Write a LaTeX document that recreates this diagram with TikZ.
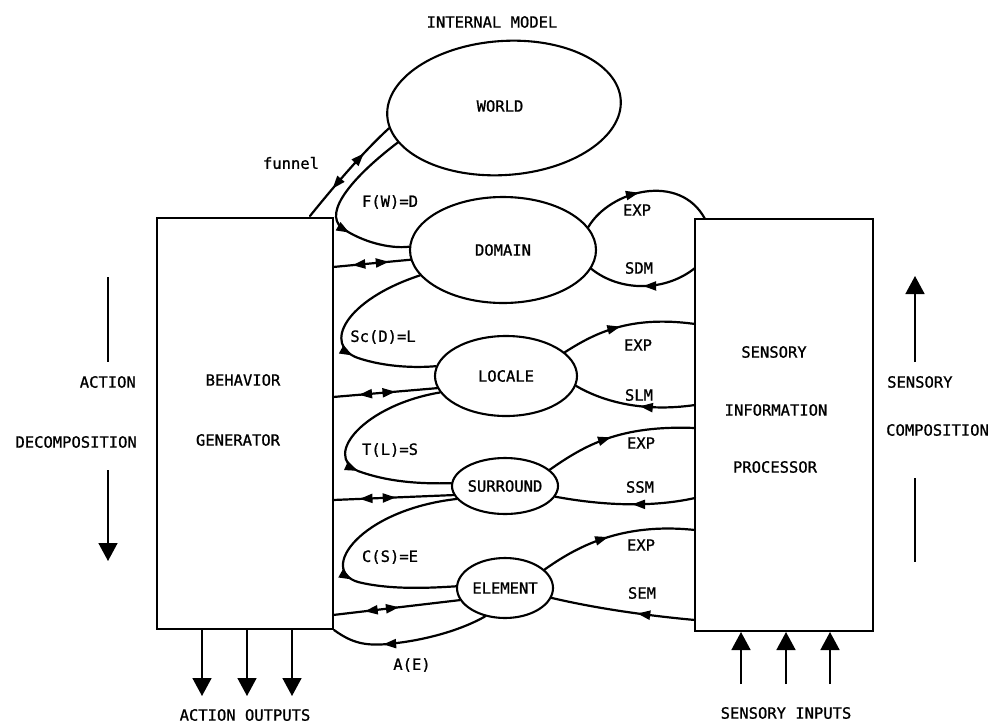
\documentclass[tikz,border=0pt]{standalone}
\usepackage{fontspec}
\usetikzlibrary{arrows.meta,decorations.markings,shapes.geometric}
\newfontfamily\plotfont{DejaVu Sans Mono}[FakeBold=1]
\newcommand\lf{\plotfont\fontsize{15.5}{18}\selectfont}

\tikzset{
  lbl/.style={font=\lf, inner sep=0pt},
  oval/.style={ellipse, draw, line width=2.1pt, inner sep=0pt, font=\lf},
  blk/.style={draw, line width=2pt, inner sep=0pt},
  wire/.style={line width=2.2pt, line cap=round},
  thinline/.style={line width=1.6pt},
  bigtip/.style={-{Triangle[length=18pt,width=19pt]}},
  fwd/.style={postaction={decorate, decoration={markings,
      mark=at position #1 with {\arrow{Triangle[length=13pt,width=9pt]}}}}},
  bwd/.style={postaction={decorate, decoration={markings,
      mark=at position #1 with {\arrowreversed{Triangle[length=13pt,width=9pt]}}}}},
}

\begin{document}
\begin{tikzpicture}[x=1pt, y=-1pt]
\useasboundingbox (0,0) rectangle (992,723);

% internal model: nested ellipses (the outer one slightly tilted)
\node[lbl] (title) at (492,22) {INTERNAL MODEL};
\node[oval, rotate=4, minimum width=234pt, minimum height=134pt] (world) at (504,108) {};
\node[lbl] (worldL) at (500,106) {WORLD};
\node[oval, minimum width=186pt, minimum height=106pt] (domain) at (503,250) {DOMAIN};
\node[oval, minimum width=142pt, minimum height=80pt] (locale) at (506,376) {LOCALE};
\node[oval, minimum width=106pt, minimum height=56pt] (surround) at (505,486) {SURROUND};
\node[oval, minimum width=96pt, minimum height=60pt] (element) at (505,588) {ELEMENT};

% the two processing blocks
\node[blk, minimum width=176pt, minimum height=411pt] (bg) at (245,423.5) {};
\node[blk, minimum width=178pt, minimum height=412pt] (sip) at (784,425) {};
\node[lbl] (bgA) at (243,380) {BEHAVIOR};
\node[lbl] (bgB) at (238,440) {GENERATOR};
\node[lbl] (sipA) at (774,352) {SENSORY};
\node[lbl] (sipB) at (776,410) {INFORMATION};
\node[lbl] (sipC) at (775,467) {PROCESSOR};

% side captions with direction arrows
\node[lbl, anchor=east] (actA) at (136,382) {ACTION};
\node[lbl, anchor=east] (actB) at (137,442) {DECOMPOSITION};
\node[lbl, anchor=west] (senA) at (887,382) {SENSORY};
\node[lbl, anchor=west] (senB) at (886,430) {COMPOSITION};
\coordinate (dA1) at (108,277); \coordinate (dA2) at (108,362);
\coordinate (dB1) at (108,470); \coordinate (dB2) at (108,561);
\draw[thinline] (dA1) -- (dA2);
\draw[thinline, bigtip] (dB1) -- (dB2);
\coordinate (cA1) at (915,362); \coordinate (cA2) at (915,276);
\coordinate (cB1) at (915,478); \coordinate (cB2) at (915,562);
\draw[thinline, bigtip] (cA1) -- (cA2);
\draw[thinline] (cB1) -- (cB2);

% action outputs and sensory inputs
\coordinate (o1) at (202,696); \coordinate (o2) at (247,696); \coordinate (o3) at (292,696);
\foreach \o in {o1,o2,o3} \draw[thinline, bigtip] (bg.south -| \o) -- (\o);
\node[lbl] (outs) at (245,715) {ACTION OUTPUTS};
\coordinate (i1) at (741,684); \coordinate (i2) at (786,684); \coordinate (i3) at (830,684);
\foreach \i in {i1,i2,i3} \draw[thinline, bigtip] (\i) -- (sip.south -| \i);
\node[lbl] (ins) at (786,713) {SENSORY INPUTS};

% world level
\coordinate (fun) at (310,216);
\draw[wire, bwd=0.3, fwd=0.7] (fun) .. controls (335,185) and (365,150) .. (world.186);
\node[lbl] (funL) at (291,163) {funnel};
\draw[wire, fwd=0.66] (world.194) .. controls (355,175) and (322,212) .. (342,228)
      .. controls (362,242) and (390,249) .. (domain.178);
\node[lbl] (fwL) at (390,202) {F(W)=D};

% domain level
\coordinate (dd) at (333,267);
\draw[wire, bwd=0.25, fwd=0.72] (dd) -- (domain.186);
\draw[wire, fwd=0.6] (domain.197) .. controls (345,300) and (322,345) .. (358,358)
      .. controls (385,367) and (415,368) .. (locale.172);
\node[lbl] (scL) at (383,337) {Sc(D)=L};
\coordinate (se0) at (705,219);
\draw[wire, fwd=0.45] (domain.15) .. controls (610,190) and (680,172) .. (se0);
\node[lbl] (e0) at (637,210) {EXP};
\coordinate (sdm) at (695,268);
\draw[wire, bwd=0.5] (domain.-12) .. controls (620,292) and (665,292) .. (sdm);
\node[lbl] (sdmL) at (639,268) {SDM};

% locale level
\coordinate (ld) at (333,397);
\draw[wire, bwd=0.25, fwd=0.6] (ld) -- (locale.190);
\draw[wire, fwd=0.6] (locale.194) .. controls (365,405) and (322,455) .. (358,471)
      .. controls (388,482) and (420,484) .. (surround.177);
\node[lbl] (tL) at (390,450) {T(L)=S};
\coordinate (se1) at (695,324);
\draw[wire, fwd=0.45] (locale.22) .. controls (595,333) and (630,315) .. (se1);
\node[lbl] (e1) at (638,345) {EXP};
\coordinate (slm) at (695,405);
\draw[wire, bwd=0.55] (locale.-8) .. controls (600,400) and (640,413) .. (slm);
\node[lbl] (slmL) at (639,395) {SLM};

% surround level
\coordinate (sd) at (333,500);
\draw[wire, bwd=0.22, fwd=0.52] (sd) -- (surround.190);
\draw[wire, fwd=0.6] (surround.195) .. controls (360,510) and (318,570) .. (358,582)
      .. controls (390,590) and (430,588) .. (element.178);
\node[lbl] (cL) at (390,557) {C(S)=E};
\coordinate (se2) at (695,428);
\draw[wire, fwd=0.45] (surround.20) .. controls (585,445) and (620,425) .. (se2);
\node[lbl] (e2) at (641,443) {EXP};
\coordinate (ssm) at (695,498);
\draw[wire, bwd=0.55] (surround.-12) .. controls (600,505) and (650,508) .. (ssm);
\node[lbl] (ssmL) at (640,487) {SSM};

% element level
\coordinate (ed) at (333,615);
\draw[wire, bwd=0.25, fwd=0.52] (ed) -- (element.195);
\draw[wire, bwd=0.33] (bg.south east) .. controls (352,643) and (365,646) .. (388,644)
      .. controls (430,640) and (465,628) .. (element.235);
\node[lbl] (aL) at (412,665) {A(E)};
\coordinate (se3) at (695,530);
\draw[wire, fwd=0.45] (element.25) .. controls (575,548) and (620,522) .. (se3);
\node[lbl] (e3) at (641,545) {EXP};
\coordinate (sem) at (695,620);
\draw[wire, bwd=0.6] (element.-12) .. controls (590,607) and (640,615) .. (sem);
\node[lbl] (semL) at (642,593) {SEM};
\end{tikzpicture}
\end{document}
